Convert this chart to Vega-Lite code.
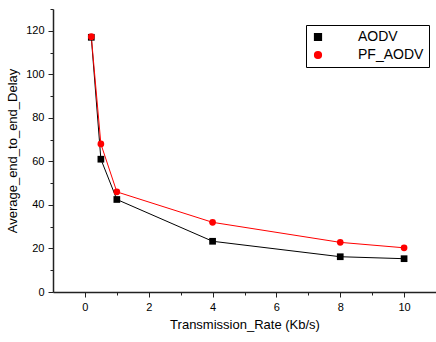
{
  "$schema": "https://vega.github.io/schema/vega-lite/v6.json",
  "width": 383,
  "height": 283,
  "autosize": {"type": "none"},
  "padding": {"left": 53, "top": 9, "right": 0, "bottom": 50},
  "background": "white",
  "config": {"view": {"stroke": null}, "font": "Liberation Sans"},
  "data": {
    "values": [
      {"rate": 0.2, "delay": 117, "series": "AODV"},
      {"rate": 0.5, "delay": 61, "series": "AODV"},
      {"rate": 1, "delay": 42.5, "series": "AODV"},
      {"rate": 4, "delay": 23.3, "series": "AODV"},
      {"rate": 8, "delay": 16.2, "series": "AODV"},
      {"rate": 10, "delay": 15.3, "series": "AODV"},
      {"rate": 0.2, "delay": 117.3, "series": "PF_AODV"},
      {"rate": 0.5, "delay": 68, "series": "PF_AODV"},
      {"rate": 1, "delay": 46, "series": "PF_AODV"},
      {"rate": 4, "delay": 32, "series": "PF_AODV"},
      {"rate": 8, "delay": 22.8, "series": "PF_AODV"},
      {"rate": 10, "delay": 20.3, "series": "PF_AODV"}
    ]
  },
  "encoding": {
    "x": {
      "field": "rate",
      "type": "quantitative",
      "scale": {"domain": [-1, 11], "nice": false, "zero": false},
      "axis": {
        "title": "Transmission_Rate (Kb/s)",
        "values": [0, 1, 2, 3, 4, 5, 6, 7, 8, 9, 10, 11],
        "labelExpr": "datum.value % 2 === 0 ? datum.label : ''",
        "tickSize": {"condition": {"test": "datum.value % 2 === 0", "value": 5}, "value": 3},
        "grid": false,
        "domainColor": "#222",
        "domainWidth": 1.5,
        "tickColor": "#222",
        "tickWidth": 1,
        "labelFontSize": 11,
        "labelColor": "#000",
        "labelPadding": 4,
        "titleFontSize": 13,
        "titleFontWeight": "normal",
        "titleColor": "#000",
        "titlePadding": 6
      }
    },
    "y": {
      "field": "delay",
      "type": "quantitative",
      "scale": {"domain": [0, 130], "nice": false},
      "axis": {
        "title": "Average_end_to_end_Delay",
        "values": [0, 10, 20, 30, 40, 50, 60, 70, 80, 90, 100, 110, 120, 130],
        "labelExpr": "datum.value % 20 === 0 ? datum.label : ''",
        "tickSize": {"condition": {"test": "datum.value % 20 === 0", "value": 5}, "value": 3},
        "grid": false,
        "domainColor": "#222",
        "domainWidth": 1.5,
        "tickColor": "#222",
        "tickWidth": 1,
        "labelFontSize": 11,
        "labelColor": "#000",
        "labelPadding": 4,
        "titleFontSize": 13,
        "titleFontWeight": "normal",
        "titleColor": "#000",
        "titlePadding": 6
      }
    }
  },
  "layer": [
    {
      "mark": {"type": "line", "strokeWidth": 1},
      "encoding": {
        "color": {
          "field": "series",
          "type": "nominal",
          "scale": {"domain": ["AODV", "PF_AODV"], "range": ["#000000", "#ff0000"]}
        }
      }
    },
    {
      "mark": {"type": "point", "filled": true, "opacity": 1, "size": 45},
      "encoding": {
        "color": {
          "field": "series",
          "type": "nominal",
          "scale": {"domain": ["AODV", "PF_AODV"], "range": ["#000000", "#ff0000"]},
          "legend": {
            "title": null,
            "orient": "none",
            "legendX": 253,
            "legendY": 16,
            "padding": 5,
            "strokeColor": "#000",
            "fillColor": "#fff",
            "symbolSize": 45,
            "labelOffset": 33,
            "labelFontSize": 14,
            "labelColor": "#000",
            "labelExpr": "datum.label + '  '",
            "rowPadding": 4
          }
        },
        "shape": {
          "field": "series",
          "type": "nominal",
          "scale": {"domain": ["AODV", "PF_AODV"], "range": ["square", "circle"]},
          "legend": null
        }
      }
    }
  ]
}
